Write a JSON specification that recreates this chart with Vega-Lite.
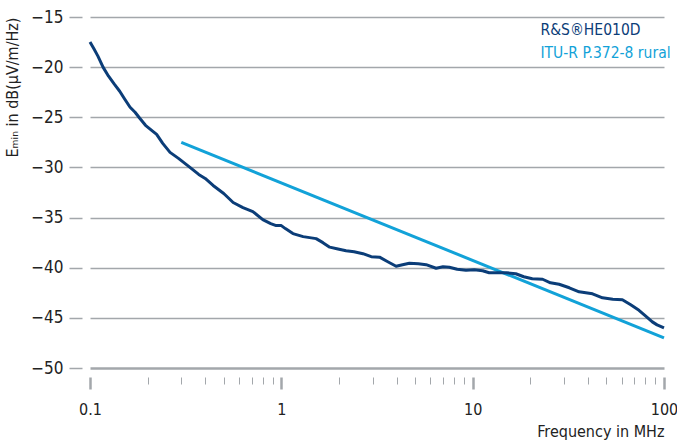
{
  "$schema": "https://vega.github.io/schema/vega-lite/v6.json",
  "autosize": "none",
  "padding": {"left": 90, "top": 17, "right": 14, "bottom": 75},
  "width": 574,
  "height": 351,
  "background": "white",
  "config": {
    "font": "DejaVu Sans Condensed, Roboto, sans-serif",
    "view": {"stroke": null},
    "axis": {"labelFont": "DejaVu Sans Condensed, Roboto, sans-serif", "titleFont": "DejaVu Sans Condensed, Roboto, sans-serif", "labelColor": "#222222", "titleColor": "#222222", "titleFontWeight": "normal"}
  },
  "data": {
    "values": [
      {"f": 0.3, "v": -27.5, "series": "ITU-R P.372-8 rural"},
      {"f": 100, "v": -47.0, "series": "ITU-R P.372-8 rural"},
      {"f": 0.1, "v": -17.5, "series": "R&S®HE010D"},
      {"f": 0.105, "v": -18.2, "series": "R&S®HE010D"},
      {"f": 0.11, "v": -18.9, "series": "R&S®HE010D"},
      {"f": 0.117, "v": -20.0, "series": "R&S®HE010D"},
      {"f": 0.125, "v": -20.9, "series": "R&S®HE010D"},
      {"f": 0.134, "v": -21.7, "series": "R&S®HE010D"},
      {"f": 0.143, "v": -22.4, "series": "R&S®HE010D"},
      {"f": 0.152, "v": -23.2, "series": "R&S®HE010D"},
      {"f": 0.162, "v": -24.0, "series": "R&S®HE010D"},
      {"f": 0.172, "v": -24.5, "series": "R&S®HE010D"},
      {"f": 0.182, "v": -25.1, "series": "R&S®HE010D"},
      {"f": 0.195, "v": -25.8, "series": "R&S®HE010D"},
      {"f": 0.21, "v": -26.3, "series": "R&S®HE010D"},
      {"f": 0.223, "v": -26.7, "series": "R&S®HE010D"},
      {"f": 0.24, "v": -27.6, "series": "R&S®HE010D"},
      {"f": 0.262, "v": -28.5, "series": "R&S®HE010D"},
      {"f": 0.29, "v": -29.1, "series": "R&S®HE010D"},
      {"f": 0.333, "v": -30.0, "series": "R&S®HE010D"},
      {"f": 0.37, "v": -30.7, "series": "R&S®HE010D"},
      {"f": 0.4, "v": -31.1, "series": "R&S®HE010D"},
      {"f": 0.44, "v": -31.8, "series": "R&S®HE010D"},
      {"f": 0.5, "v": -32.6, "series": "R&S®HE010D"},
      {"f": 0.56, "v": -33.5, "series": "R&S®HE010D"},
      {"f": 0.63, "v": -34.0, "series": "R&S®HE010D"},
      {"f": 0.71, "v": -34.4, "series": "R&S®HE010D"},
      {"f": 0.8, "v": -35.2, "series": "R&S®HE010D"},
      {"f": 0.88, "v": -35.6, "series": "R&S®HE010D"},
      {"f": 0.94, "v": -35.8, "series": "R&S®HE010D"},
      {"f": 1.0, "v": -35.8, "series": "R&S®HE010D"},
      {"f": 1.05, "v": -36.1, "series": "R&S®HE010D"},
      {"f": 1.15, "v": -36.6, "series": "R&S®HE010D"},
      {"f": 1.3, "v": -36.9, "series": "R&S®HE010D"},
      {"f": 1.52, "v": -37.1, "series": "R&S®HE010D"},
      {"f": 1.65, "v": -37.5, "series": "R&S®HE010D"},
      {"f": 1.79, "v": -37.95, "series": "R&S®HE010D"},
      {"f": 1.95, "v": -38.1, "series": "R&S®HE010D"},
      {"f": 2.18, "v": -38.3, "series": "R&S®HE010D"},
      {"f": 2.4, "v": -38.4, "series": "R&S®HE010D"},
      {"f": 2.67, "v": -38.6, "series": "R&S®HE010D"},
      {"f": 2.95, "v": -38.9, "series": "R&S®HE010D"},
      {"f": 3.26, "v": -38.95, "series": "R&S®HE010D"},
      {"f": 3.6, "v": -39.4, "series": "R&S®HE010D"},
      {"f": 3.98, "v": -39.85, "series": "R&S®HE010D"},
      {"f": 4.3, "v": -39.7, "series": "R&S®HE010D"},
      {"f": 4.67, "v": -39.55, "series": "R&S®HE010D"},
      {"f": 5.2, "v": -39.6, "series": "R&S®HE010D"},
      {"f": 5.71, "v": -39.7, "series": "R&S®HE010D"},
      {"f": 6.44, "v": -40.05, "series": "R&S®HE010D"},
      {"f": 7.0, "v": -39.9, "series": "R&S®HE010D"},
      {"f": 7.55, "v": -39.95, "series": "R&S®HE010D"},
      {"f": 8.3, "v": -40.15, "series": "R&S®HE010D"},
      {"f": 9.23, "v": -40.25, "series": "R&S®HE010D"},
      {"f": 10.2, "v": -40.2, "series": "R&S®HE010D"},
      {"f": 11.27, "v": -40.3, "series": "R&S®HE010D"},
      {"f": 12.2, "v": -40.5, "series": "R&S®HE010D"},
      {"f": 13.23, "v": -40.5, "series": "R&S®HE010D"},
      {"f": 15.0, "v": -40.5, "series": "R&S®HE010D"},
      {"f": 16.8, "v": -40.6, "series": "R&S®HE010D"},
      {"f": 18.5, "v": -40.9, "series": "R&S®HE010D"},
      {"f": 20.5, "v": -41.1, "series": "R&S®HE010D"},
      {"f": 23.2, "v": -41.15, "series": "R&S®HE010D"},
      {"f": 25.5, "v": -41.5, "series": "R&S®HE010D"},
      {"f": 28.3, "v": -41.65, "series": "R&S®HE010D"},
      {"f": 32, "v": -42.0, "series": "R&S®HE010D"},
      {"f": 36, "v": -42.4, "series": "R&S®HE010D"},
      {"f": 42.3, "v": -42.6, "series": "R&S®HE010D"},
      {"f": 47.7, "v": -43.0, "series": "R&S®HE010D"},
      {"f": 54, "v": -43.15, "series": "R&S®HE010D"},
      {"f": 60.6, "v": -43.2, "series": "R&S®HE010D"},
      {"f": 67, "v": -43.7, "series": "R&S®HE010D"},
      {"f": 74, "v": -44.25, "series": "R&S®HE010D"},
      {"f": 80, "v": -44.8, "series": "R&S®HE010D"},
      {"f": 86.9, "v": -45.4, "series": "R&S®HE010D"},
      {"f": 92, "v": -45.7, "series": "R&S®HE010D"},
      {"f": 100, "v": -46.0, "series": "R&S®HE010D"}
    ]
  },
  "mark": {"type": "line", "strokeWidth": 3, "strokeJoin": "round", "strokeCap": "butt"},
  "encoding": {
    "x": {
      "field": "f", "type": "quantitative",
      "scale": {"type": "log", "domain": [0.1, 100], "nice": false},
      "axis": {
        "title": "Frequency in MHz",
        "titleAnchor": "end",
        "titleFontSize": 16,
        "titlePadding": 6,
        "values": [0.1,0.2,0.3,0.4,0.5,0.6,0.7,0.8,0.9,1,2,3,4,5,6,7,8,9,10,20,30,40,50,60,70,80,90,100],
        "labelExpr": "datum.value == 0.1 ? '0.1' : datum.value == 1 ? '1' : datum.value == 10 ? '10' : datum.value == 100 ? '100' : ''",
        "labelFontSize": 16,
        "labelPadding": 12,
        "labelFlush": false,
        "labelOverlap": false,
        "domain": false,
        "grid": false,
        "offset": 9,
        "tickColor": "#a3a7ab",
        "tickSize": {"condition": {"test": "indexof([0.1,1,10,100], datum.value) >= 0", "value": 12}, "value": 7},
        "tickWidth": {"condition": {"test": "indexof([0.1,1,10,100], datum.value) >= 0", "value": 2.5}, "value": 1}
      }
    },
    "y": {
      "field": "v", "type": "quantitative",
      "scale": {"domain": [-50, -15], "nice": false, "zero": false},
      "axis": {
        "title": "Eₘᵢₙ in dB(µV/m/Hz)",
        "titleAnchor": "end",
        "titleFontSize": 16,
        "titlePadding": 10,
        "values": [-50,-45,-40,-35,-30,-25,-20,-15],
        "labelFontSize": 17,
        "labelPadding": 6,
        "domain": false,
        "offset": 8,
        "tickSize": 13,
        "tickWidth": 1.5,
        "tickColor": "#a3a7ab",
        "grid": true,
        "gridColor": "#a3a7ab",
        "gridWidth": {"condition": {"test": "datum.value == -50", "value": 2.5}, "value": 1.5}
      }
    },
    "color": {
      "field": "series", "type": "nominal",
      "scale": {"domain": ["R&S®HE010D", "ITU-R P.372-8 rural"], "range": ["#0b3d78", "#12a2d8"]},
      "legend": {
        "title": null,
        "orient": "none",
        "legendX": 435,
        "legendY": 5,
        "symbolSize": 0,
        "symbolOpacity": 0,
        "symbolStrokeWidth": 0,
        "labelFontSize": 15.5,
        "labelFont": "DejaVu Sans Condensed, Roboto, sans-serif",
        "labelOffset": 0,
        "rowPadding": 6,
        "labelColor": {"expr": "datum.label == 'R&S®HE010D' ? '#0b3d78' : '#12a2d8'"}
      }
    }
  }
}
